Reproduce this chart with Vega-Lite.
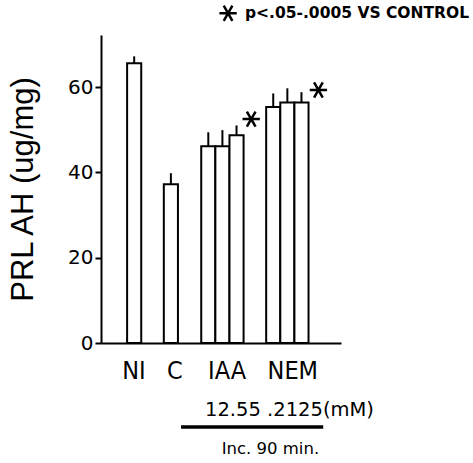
{
  "$schema": "https://vega.github.io/schema/vega-lite/v6.json",
  "width": 240,
  "height": 308,
  "autosize": {"type": "none"},
  "padding": {"left": 101, "top": 35, "right": 132, "bottom": 120},
  "background": "white",
  "config": {"view": {"stroke": null}},
  "datasets": {
    "bars": [
      {"group": "NI", "dose": "", "x0": 1.85, "x1": 2.85, "xc": 2.35, "value": 65.6, "err": 67.2},
      {"group": "C", "dose": "", "x0": 4.45, "x1": 5.45, "xc": 4.95, "value": 37.2, "err": 39.8},
      {"group": "IAA", "dose": "1", "x0": 7.1, "x1": 8.1, "xc": 7.6, "value": 46.1, "err": 49.4},
      {"group": "IAA", "dose": "2.5", "x0": 8.1, "x1": 9.1, "xc": 8.6, "value": 46.1, "err": 49.9},
      {"group": "IAA", "dose": "5", "x0": 9.1, "x1": 10.1, "xc": 9.6, "value": 48.7, "err": 51.0},
      {"group": "NEM", "dose": ".2", "x0": 11.7, "x1": 12.7, "xc": 12.2, "value": 55.3, "err": 58.5},
      {"group": "NEM", "dose": "1", "x0": 12.7, "x1": 13.7, "xc": 13.2, "value": 56.4, "err": 59.7},
      {"group": "NEM", "dose": "2.5", "x0": 13.7, "x1": 14.7, "xc": 14.2, "value": 56.4, "err": 58.8}
    ],
    "stars": [
      {"x": 10.64, "y": 52.5},
      {"x": 15.4, "y": 59.3},
      {"x": 9.0, "y": 77.3}
    ]
  },
  "layer": [
    {
      "data": {"name": "bars"},
      "mark": {"type": "bar", "fill": "white", "stroke": "black", "strokeWidth": 2},
      "encoding": {
        "x": {
          "field": "x0", "type": "quantitative",
          "scale": {"domain": [0, 17], "nice": false, "zero": false},
          "axis": {
            "values": [2.3, 5.2, 8.9, 13.55],
            "labelExpr": "datum.value < 3 ? 'NI' : datum.value < 6 ? 'C' : datum.value < 10 ? 'IAA' : 'NEM'",
            "title": null, "grid": false, "ticks": false,
            "domainColor": "black", "domainWidth": 2,
            "labelFont": "Liberation Sans Narrow, DejaVu Sans Condensed, sans-serif",
            "labelFontSize": 25, "labelColor": "black", "labelPadding": 15,
            "labelFlush": false, "labelOverlap": false
          }
        },
        "x2": {"field": "x1"},
        "y": {
          "field": "value", "type": "quantitative",
          "scale": {"domain": [0, 72.2], "nice": false},
          "axis": {
            "values": [0, 20, 40, 60],
            "title": "PRL AH (ug/mg)",
            "titleFont": "Liberation Sans, sans-serif",
            "titleFontSize": 31, "titleFontWeight": "normal", "titleColor": "black",
            "titlePadding": 28,
            "grid": false, "domainColor": "black", "domainWidth": 2,
            "tickColor": "black", "tickWidth": 2, "tickSize": 6,
            "labelFont": "DejaVu Sans", "labelFontSize": 20, "labelColor": "black",
            "labelPadding": 2
          }
        },
        "y2": {"datum": 0}
      }
    },
    {
      "data": {"name": "bars"},
      "mark": {"type": "rule", "stroke": "black", "strokeWidth": 2},
      "encoding": {
        "x": {"field": "xc", "type": "quantitative"},
        "y": {"field": "value", "type": "quantitative"},
        "y2": {"field": "err"}
      }
    },
    {
      "data": {"name": "stars"},
      "mark": {
        "type": "point",
        "shape": "M-1,0L1,0M-0.5,-0.87L0.5,0.87M-0.5,0.87L0.5,-0.87",
        "size": 300, "stroke": "black", "strokeWidth": 2.5, "filled": false, "opacity": 1
      },
      "encoding": {
        "x": {"field": "x", "type": "quantitative"},
        "y": {"field": "y", "type": "quantitative"}
      }
    },
    {
      "data": {"values": [{}]},
      "mark": {"type": "text", "text": "p<.05-.0005 VS CONTROL", "font": "DejaVu Sans", "fontSize": 15.5, "fontWeight": "bold", "align": "left", "baseline": "middle", "color": "black"},
      "encoding": {"x": {"datum": 10.2}, "y": {"datum": 77.3}}
    },
    {
      "data": {"values": [{}]},
      "mark": {"type": "text", "text": "12.55 .2125(mM)", "font": "DejaVu Sans", "fontSize": 19.5, "align": "center", "baseline": "middle", "color": "black"},
      "encoding": {"x": {"datum": 13.35}, "y": {"datum": -15.7}}
    },
    {
      "data": {"values": [{}]},
      "mark": {"type": "rule", "stroke": "black", "strokeWidth": 3.5},
      "encoding": {"x": {"datum": 5.67}, "x2": {"datum": 15.74}, "y": {"datum": -19.7}}
    },
    {
      "data": {"values": [{}]},
      "mark": {"type": "text", "text": "Inc. 90 min.", "font": "DejaVu Sans", "fontSize": 16.5, "align": "center", "baseline": "middle", "color": "black"},
      "encoding": {"x": {"datum": 12.0}, "y": {"datum": -24.8}}
    }
  ]
}
